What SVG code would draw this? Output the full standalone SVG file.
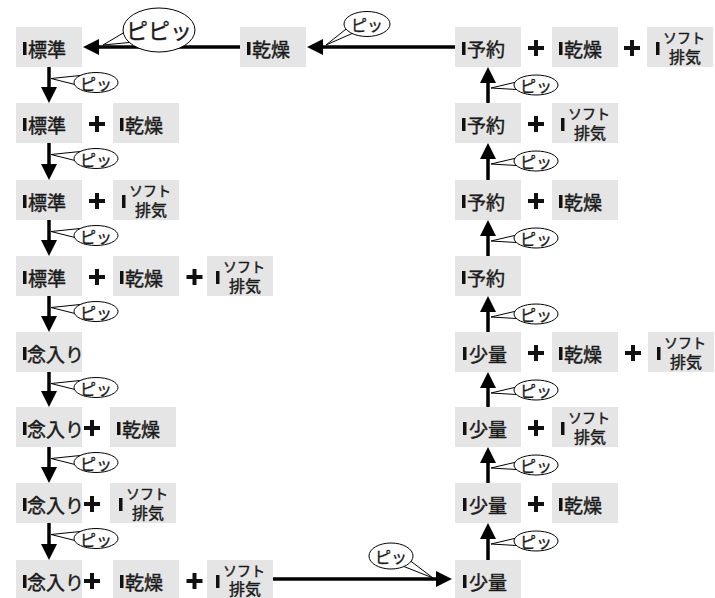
<svg xmlns="http://www.w3.org/2000/svg" width="715" height="598" viewBox="0 0 715 598">
<style>
text{font-family:"Noto Sans CJK JP","Noto Sans",sans-serif;fill:#1a1a1a;stroke:#1a1a1a;stroke-width:0.45;dominant-baseline:central}
.box{fill:#e5e5e5}
.bar{fill:#111}
.t{font-size:19px}
.ts{font-size:14px;text-anchor:middle}
.tk{font-size:16px;text-anchor:middle}
.plus{stroke:#111;stroke-width:4;fill:none}
.ln{stroke:#000;stroke-width:3.5;fill:none;marker-end:url(#ah)}
.bub{fill:#fff;stroke:#000;stroke-width:1}
.bt{font-size:16px;text-anchor:middle;stroke-width:0.3}
</style>
<defs>
<marker id="ah" viewBox="0 0 16 16" refX="6" refY="8" markerWidth="16" markerHeight="16" markerUnits="userSpaceOnUse" orient="auto"><path d="M0,0 L16,8 L0,16 z" fill="#000"/></marker>
</defs>

<g id="connectors">
<line class="ln" x1="455" y1="47" x2="317" y2="47"/>
<line class="ln" x1="240" y1="47" x2="93" y2="47"/>
<line class="ln" x1="49" y1="67" x2="49" y2="93"/>
<line class="ln" x1="49" y1="143" x2="49" y2="170"/>
<line class="ln" x1="49" y1="220" x2="49" y2="246"/>
<line class="ln" x1="49" y1="296" x2="49" y2="322"/>
<line class="ln" x1="49" y1="372" x2="49" y2="397"/>
<line class="ln" x1="49" y1="447" x2="49" y2="473"/>
<line class="ln" x1="49" y1="523" x2="49" y2="550"/>
<line class="ln" x1="488" y1="103" x2="488" y2="77"/>
<line class="ln" x1="488" y1="180" x2="488" y2="153"/>
<line class="ln" x1="488" y1="256" x2="488" y2="230"/>
<line class="ln" x1="488" y1="332" x2="488" y2="306"/>
<line class="ln" x1="488" y1="407" x2="488" y2="382"/>
<line class="ln" x1="488" y1="483" x2="488" y2="457"/>
<line class="ln" x1="488" y1="560" x2="488" y2="533"/>
<line class="ln" x1="273" y1="579" x2="442" y2="579"/>
</g>

<g id="bubbles">
<path class="bub" d="M140 23 L103 45 L145 41"/><ellipse class="bub" cx="159" cy="30" rx="36" ry="22"/><text class="bt" style="font-size:22px" x="159" y="29">ピピッ</text>
<path class="bub" d="M355 22 L326 45 L360 30"/><ellipse class="bub" cx="367" cy="24" rx="23" ry="12.5"/><text class="bt" x="367" y="24">ピッ</text>
<path class="bub" d="M395 563 L433 578 L400 553"/><ellipse class="bub" cx="391" cy="556" rx="22" ry="13"/><text class="bt" x="391" y="556">ピッ</text>

<path class="bub" d="M85 75 L51 78.5 L85 87"/><ellipse class="bub" cx="96" cy="82.5" rx="22" ry="10"/><text class="bt" x="96" y="82.5">ピッ</text>
<path class="bub" d="M85 151 L51 154.5 L85 163"/><ellipse class="bub" cx="96" cy="158.5" rx="22" ry="10"/><text class="bt" x="96" y="158.5">ピッ</text>
<path class="bub" d="M85 228 L51 231.5 L85 240"/><ellipse class="bub" cx="96" cy="235.5" rx="22" ry="10"/><text class="bt" x="96" y="235.5">ピッ</text>
<path class="bub" d="M85 304 L51 307.5 L85 316"/><ellipse class="bub" cx="96" cy="311.5" rx="22" ry="10"/><text class="bt" x="96" y="311.5">ピッ</text>
<path class="bub" d="M85 380 L51 383.5 L85 392"/><ellipse class="bub" cx="96" cy="387.5" rx="22" ry="10"/><text class="bt" x="96" y="387.5">ピッ</text>
<path class="bub" d="M85 455 L51 458.5 L85 467"/><ellipse class="bub" cx="96" cy="462.5" rx="22" ry="10"/><text class="bt" x="96" y="462.5">ピッ</text>
<path class="bub" d="M85 531 L51 534.5 L85 543"/><ellipse class="bub" cx="96" cy="538.5" rx="22" ry="10"/><text class="bt" x="96" y="538.5">ピッ</text>

<path class="bub" d="M525 80 L491 88 L525 90"/><ellipse class="bub" cx="536" cy="85" rx="22" ry="10"/><text class="bt" x="536" y="85">ピッ</text>
<path class="bub" d="M525 156 L491 164 L525 166"/><ellipse class="bub" cx="536" cy="161" rx="22" ry="10"/><text class="bt" x="536" y="161">ピッ</text>
<path class="bub" d="M525 233 L491 241 L525 243"/><ellipse class="bub" cx="536" cy="238" rx="22" ry="10"/><text class="bt" x="536" y="238">ピッ</text>
<path class="bub" d="M525 309 L491 317 L525 319"/><ellipse class="bub" cx="536" cy="314" rx="22" ry="10"/><text class="bt" x="536" y="314">ピッ</text>
<path class="bub" d="M525 385 L491 393 L525 395"/><ellipse class="bub" cx="536" cy="390" rx="22" ry="10"/><text class="bt" x="536" y="390">ピッ</text>
<path class="bub" d="M525 460 L491 468 L525 470"/><ellipse class="bub" cx="536" cy="465" rx="22" ry="10"/><text class="bt" x="536" y="465">ピッ</text>
<path class="bub" d="M525 536 L491 544 L525 546"/><ellipse class="bub" cx="536" cy="541" rx="22" ry="10"/><text class="bt" x="536" y="541">ピッ</text>
</g>

<g id="top-kanso"><rect class="box" x="240" y="27" width="66" height="40"/><rect class="bar" x="247" y="42" width="3.5" height="13"/><text class="t" x="252" y="48">乾燥</text></g>

<g id="L1"><rect class="box" x="16" y="27" width="66" height="40"/><rect class="bar" x="23" y="42" width="3.5" height="13"/><text class="t" x="28" y="48">標準</text></g>

<g id="L2">
<g id="L2a"><rect class="box" x="16" y="103" width="66" height="40"/><rect class="bar" x="23" y="118" width="3.5" height="13"/><text class="t" x="28" y="124">標準</text></g>
<path class="plus" d="M89 124 H105 M97 116 V132"/>
<g id="L2b"><rect class="box" x="113" y="103" width="66" height="40"/><rect class="bar" x="120" y="118" width="3.5" height="13"/><text class="t" x="125" y="124">乾燥</text></g>
</g>

<g id="L3">
<g id="L3a"><rect class="box" x="16" y="180" width="66" height="40"/><rect class="bar" x="23" y="195" width="3.5" height="13"/><text class="t" x="28" y="201">標準</text></g>
<path class="plus" d="M89 201 H105 M97 193 V209"/>
<g id="L3b"><rect class="box" x="113" y="180" width="66" height="40"/><rect class="bar" x="122" y="195" width="3.5" height="13"/><text class="ts" x="150" y="190">ソフト</text><text class="tk" x="151" y="208.5">排気</text></g>
</g>

<g id="L4">
<g id="L4a"><rect class="box" x="16" y="256" width="66" height="40"/><rect class="bar" x="23" y="271" width="3.5" height="13"/><text class="t" x="28" y="277">標準</text></g>
<path class="plus" d="M89 277 H105 M97 269 V285"/>
<g id="L4b"><rect class="box" x="113" y="256" width="66" height="40"/><rect class="bar" x="120" y="271" width="3.5" height="13"/><text class="t" x="125" y="277">乾燥</text></g>
<path class="plus" d="M186.5 277 H202.5 M194.5 269 V285"/>
<g id="L4c"><rect class="box" x="207" y="256" width="66" height="40"/><rect class="bar" x="216" y="271" width="3.5" height="13"/><text class="ts" x="244" y="266">ソフト</text><text class="tk" x="245" y="284.5">排気</text></g>
</g>

<g id="L5"><rect class="box" x="16" y="332" width="66" height="40"/><rect class="bar" x="23" y="347" width="3.5" height="13"/><text class="t" x="27" y="353">念入り</text></g>

<g id="L6">
<g id="L6a"><rect class="box" x="16" y="407" width="66" height="40"/><rect class="bar" x="23" y="422" width="3.5" height="13"/><text class="t" x="27" y="428">念入り</text></g>
<path class="plus" d="M84 428 H100 M92 420 V436"/>
<g id="L6b"><rect class="box" x="110" y="407" width="66" height="40"/><rect class="bar" x="117" y="422" width="3.5" height="13"/><text class="t" x="122" y="428">乾燥</text></g>
</g>

<g id="L7">
<g id="L7a"><rect class="box" x="16" y="483" width="66" height="40"/><rect class="bar" x="23" y="498" width="3.5" height="13"/><text class="t" x="27" y="504">念入り</text></g>
<path class="plus" d="M84 504 H100 M92 496 V512"/>
<g id="L7b"><rect class="box" x="110" y="483" width="66" height="40"/><rect class="bar" x="119" y="498" width="3.5" height="13"/><text class="ts" x="147" y="493">ソフト</text><text class="tk" x="148" y="511.5">排気</text></g>
</g>

<g id="L8">
<g id="L8a"><rect class="box" x="16" y="560" width="66" height="40"/><rect class="bar" x="23" y="575" width="3.5" height="13"/><text class="t" x="27" y="581">念入り</text></g>
<path class="plus" d="M84 581 H100 M92 573 V589"/>
<g id="L8b"><rect class="box" x="113" y="560" width="66" height="40"/><rect class="bar" x="120" y="575" width="3.5" height="13"/><text class="t" x="125" y="581">乾燥</text></g>
<path class="plus" d="M186.5 581 H202.5 M194.5 573 V589"/>
<g id="L8c"><rect class="box" x="207" y="560" width="66" height="40"/><rect class="bar" x="216" y="575" width="3.5" height="13"/><text class="ts" x="244" y="570">ソフト</text><text class="tk" x="245" y="588">排気</text></g>
</g>

<g id="R1">
<g id="R1a"><rect class="box" x="455" y="27" width="66" height="40"/><rect class="bar" x="462" y="42" width="3.5" height="13"/><text class="t" x="467" y="48">予約</text></g>
<path class="plus" d="M528 48 H544 M536 40 V56"/>
<g id="R1b"><rect class="box" x="552" y="27" width="66" height="40"/><rect class="bar" x="559" y="42" width="3.5" height="13"/><text class="t" x="564" y="48">乾燥</text></g>
<path class="plus" d="M624 48 H640 M632 40 V56"/>
<g id="R1c"><rect class="box" x="647" y="27" width="66" height="40"/><rect class="bar" x="656" y="42" width="3.5" height="13"/><text class="ts" x="684" y="37">ソフト</text><text class="tk" x="685" y="55.5">排気</text></g>
</g>

<g id="R2">
<g id="R2a"><rect class="box" x="455" y="103" width="66" height="40"/><rect class="bar" x="462" y="118" width="3.5" height="13"/><text class="t" x="467" y="124">予約</text></g>
<path class="plus" d="M528 124 H544 M536 116 V132"/>
<g id="R2b"><rect class="box" x="552" y="103" width="66" height="40"/><rect class="bar" x="561" y="118" width="3.5" height="13"/><text class="ts" x="589" y="113">ソフト</text><text class="tk" x="590" y="131.5">排気</text></g>
</g>

<g id="R3">
<g id="R3a"><rect class="box" x="455" y="180" width="66" height="40"/><rect class="bar" x="462" y="195" width="3.5" height="13"/><text class="t" x="467" y="201">予約</text></g>
<path class="plus" d="M528 201 H544 M536 193 V209"/>
<g id="R3b"><rect class="box" x="552" y="180" width="66" height="40"/><rect class="bar" x="559" y="195" width="3.5" height="13"/><text class="t" x="564" y="201">乾燥</text></g>
</g>

<g id="R4"><rect class="box" x="455" y="256" width="66" height="40"/><rect class="bar" x="462" y="271" width="3.5" height="13"/><text class="t" x="467" y="277">予約</text></g>

<g id="R5">
<g id="R5a"><rect class="box" x="455" y="332" width="66" height="40"/><rect class="bar" x="463" y="347" width="3.5" height="13"/><text class="t" x="469" y="353">少量</text></g>
<path class="plus" d="M528 353 H544 M536 345 V361"/>
<g id="R5b"><rect class="box" x="552" y="332" width="66" height="40"/><rect class="bar" x="559" y="347" width="3.5" height="13"/><text class="t" x="564" y="353">乾燥</text></g>
<path class="plus" d="M625 353 H641 M633 345 V361"/>
<g id="R5c"><rect class="box" x="648" y="332" width="66" height="40"/><rect class="bar" x="657" y="347" width="3.5" height="13"/><text class="ts" x="685" y="342">ソフト</text><text class="tk" x="686" y="360.5">排気</text></g>
</g>

<g id="R6">
<g id="R6a"><rect class="box" x="455" y="407" width="66" height="40"/><rect class="bar" x="463" y="422" width="3.5" height="13"/><text class="t" x="469" y="428">少量</text></g>
<path class="plus" d="M528 428 H544 M536 420 V436"/>
<g id="R6b"><rect class="box" x="552" y="407" width="66" height="40"/><rect class="bar" x="561" y="422" width="3.5" height="13"/><text class="ts" x="589" y="417">ソフト</text><text class="tk" x="590" y="435.5">排気</text></g>
</g>

<g id="R7">
<g id="R7a"><rect class="box" x="455" y="483" width="66" height="40"/><rect class="bar" x="463" y="498" width="3.5" height="13"/><text class="t" x="469" y="504">少量</text></g>
<path class="plus" d="M528 504 H544 M536 496 V512"/>
<g id="R7b"><rect class="box" x="552" y="483" width="66" height="40"/><rect class="bar" x="559" y="498" width="3.5" height="13"/><text class="t" x="564" y="504">乾燥</text></g>
</g>

<g id="R8"><rect class="box" x="455" y="560" width="66" height="40"/><rect class="bar" x="463" y="575" width="3.5" height="13"/><text class="t" x="469" y="581">少量</text></g>
</svg>
